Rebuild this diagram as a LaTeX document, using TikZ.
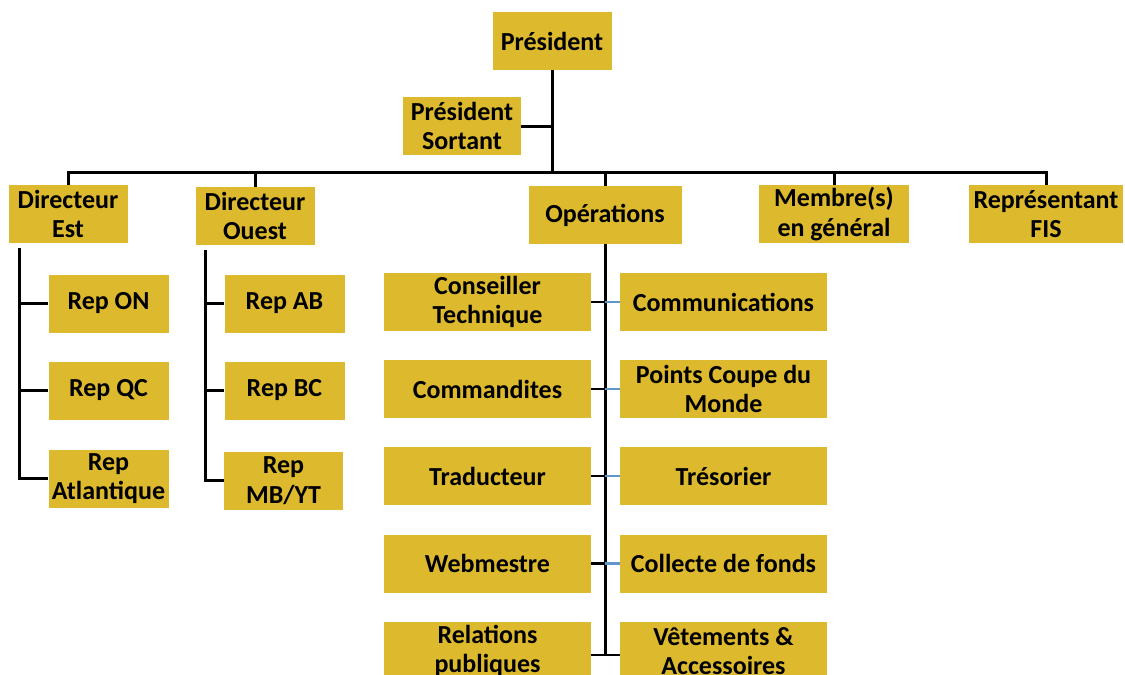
\documentclass[tikz,border=0pt]{standalone}
\usepackage{fontspec}
\setmainfont{Carlito}
\definecolor{gold}{RGB}{221,185,46}
\definecolor{tieblue}{RGB}{96,150,200}
\tikzstyle{role}=[fill=gold,font=\bfseries\fontsize{13}{14.8}\selectfont,align=center,inner sep=0pt,minimum height=29pt]
\tikzstyle{rep}=[role,minimum width=60pt]
\tikzstyle{task}=[role,minimum width=103.5pt]
\tikzstyle{link}=[line width=1.5pt]
\tikzstyle{tie}=[line width=1.1pt,draw=tieblue]
\tikzset{every picture/.style={
    x=0.5pt,y=-0.5pt
  }
}
\begin{document}
\begin{tikzpicture}
      \useasboundingbox (0,0) rectangle (1125,675);
      \node[role,minimum width=59.5pt] at (552,41) (pres) {Président};
      \node[role,minimum width=59pt] at (462,126) (sortant) {Président\\Sortant};
      \node[role,minimum width=59.5pt] at (68,214) (dirE) {Directeur\\Est};
      \node[role,minimum width=59.5pt] at (255,216) (dirO) {Directeur\\Ouest};
      \node[role,minimum width=76.5pt] at (605,215) (ops) {Opérations};
      \node[role,minimum width=75pt] at (834,214) (membres) {Membre(s)\\en général};
      \node[role,minimum width=77pt] at (1046,214) (fis) {Représentant\\FIS};
      \coordinate (hub) at (552,172);
      \draw[link] (pres.south) -- (hub);
      \draw[link] (sortant.east) -- (sortant.east -| hub);
      \draw[link] (dirE.north) |- (hub);
      \draw[link] (dirO.north) |- (hub);
      \draw[link] (ops.north) |- (hub);
      \draw[link] (membres.north) |- (hub);
      \draw[link] (fis.north) |- (hub);
      % est
      \node[rep] at (108.5,303.5) (repON) {Rep ON};
      \node[rep] at (108.5,390.5) (repQC) {Rep QC};
      \node[rep] at (108.5,478.5) (repAtl) {Rep\\Atlantique};
      \coordinate (estspine) at (19,248);
      \draw[link] (estspine) |- (repON.west);
      \draw[link] (estspine) |- (repQC.west);
      \draw[link] (estspine) |- (repAtl.west);
      % ouest
      \node[rep] at (284.5,303.5) (repAB) {Rep AB};
      \node[rep] at (284.5,390.5) (repBC) {Rep BC};
      \node[rep,minimum width=59.5pt] at (283.5,480.5) (repMB) {Rep\\MB/YT};
      \coordinate (ouestspine) at (205,250);
      \draw[link] (ouestspine) |- (repAB.west);
      \draw[link] (ouestspine) |- (repBC.west);
      \draw[link] (ouestspine) |- (repMB.west);
      % operations
      \node[task] at (487.5,302) (conseiller) {Conseiller\\Technique};
      \node[task] at (723.5,302) (comms) {Communications};
      \node[task] at (487.5,389) (commandites) {Commandites};
      \node[task] at (723.5,389) (coupe) {Points Coupe du\\Monde};
      \node[task] at (487.5,476) (traducteur) {Traducteur};
      \node[task] at (723.5,476) (tresorier) {Trésorier};
      \node[task] at (487.5,563.5) (webmestre) {Webmestre};
      \node[task] at (723.5,563.5) (collecte) {Collecte de fonds};
      \node[task] at (487.5,651) (relations) {Relations\\publiques};
      \node[task] at (723.5,651) (vetements) {Vêtements \&\\Accessoires};
      \coordinate (opsend) at (605,655);
      \draw[link] (ops.south) -- (opsend);
      \foreach \l/\r in {conseiller/comms,commandites/coupe,traducteur/tresorier,webmestre/collecte}{
        \draw[link,line width=1.1pt] (\l.east) -- (\l.east -| opsend);
        \draw[tie] (\l.east -| opsend) -- (\r.west);
      }
      \draw[link,line width=1.1pt] (relations.east |- opsend) -- (vetements.west |- opsend);
    \end{tikzpicture}
\end{document}
